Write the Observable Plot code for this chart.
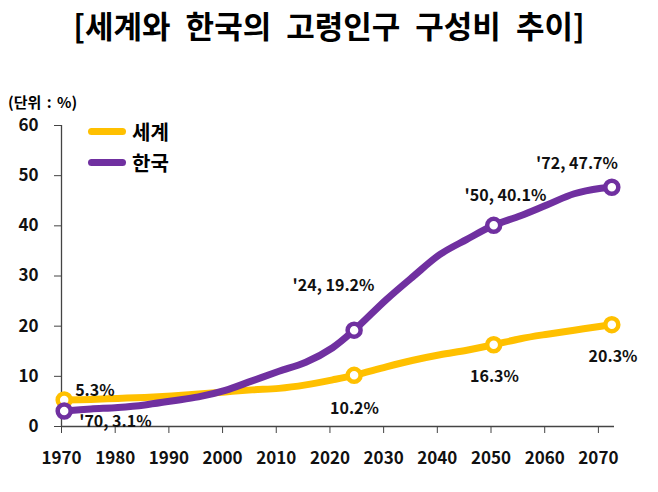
<!DOCTYPE html>
<html>
<head>
<meta charset="utf-8">
<script src="https://cdn.jsdelivr.net/npm/d3@7"></script>
<script src="https://cdn.jsdelivr.net/npm/@observablehq/plot@0.6"></script>
<style>
  body { margin: 0; background: #fff; font-family: "Noto Sans CJK KR", "Noto Sans", sans-serif; }
  #wrap { position: relative; width: 658px; height: 492px; overflow: hidden; }
  #title { position: absolute; left: 0; top: 6px; width: 658px; text-align: center; font-size: 31px; font-weight: 700; line-height: 38px; color: #000; word-spacing: 8px; z-index: 2; }
  #unit { position: absolute; left: 8px; top: 92px; font-size: 15px; font-weight: 700; line-height: 20px; color: #000; word-spacing: 2px; z-index: 2; }
  #legend { position: absolute; left: 0; top: 0; z-index: 2; }
  .leg { position: absolute; left: 88px; height: 24px; display: flex; align-items: center; font-size: 20px; font-weight: 700; color: #000; white-space: nowrap; }
  .leg span.sw { display: inline-block; width: 38px; height: 7px; border-radius: 4px; margin-right: 6px; }
  #chart { position: absolute; left: 0; top: 60px; z-index: 1; }
</style>
</head>
<body>
<div id="wrap">
  <div id="title">[세계와 한국의 고령인구 구성비 추이]</div>
  <div id="unit">(단위 : %)</div>
  <div id="legend"></div>
  <div id="chart"></div>
</div>
<script>
// ---- data ----
const years = [1970, 1975, 1980, 1985, 1990, 1995, 2000, 2005, 2010, 2015, 2020, 2024, 2030, 2035, 2040, 2045, 2050, 2055, 2060, 2065, 2070, 2072];
const koreaValues = [3.1, 3.5, 3.8, 4.3, 5.1, 5.9, 7.2, 9.1, 11.0, 12.8, 15.7, 19.2, 25.3, 29.9, 34.3, 37.3, 40.1, 42.0, 44.2, 46.4, 47.5, 47.7];
const worldValues = [5.3, 5.4, 5.6, 5.8, 6.1, 6.5, 6.9, 7.3, 7.6, 8.3, 9.3, 10.2, 11.9, 13.2, 14.3, 15.2, 16.3, 17.5, 18.4, 19.2, 20.0, 20.3];
const seriesNames = ["세계", "한국"];
const seriesColors = ["#FFC000", "#7030A0"];
const markedYears = [1970, 2024, 2050, 2072];
const xTicks = [1970, 1980, 1990, 2000, 2010, 2020, 2030, 2040, 2050, 2060, 2070];
const yTicks = [0, 10, 20, 30, 40, 50, 60];
const koreaLabels = ["'70, 3.1%", "'24, 19.2%", "'50, 40.1%", "'72, 47.7%"];
const worldLabels = ["5.3%", "10.2%", "16.3%", "20.3%"];

// ---- build tables ----
const world = years.map((year, i) => ({series: seriesNames[0], year, value: worldValues[i]}));
const korea = years.map((year, i) => ({series: seriesNames[1], year, value: koreaValues[i]}));
const worldMarks = world.filter(d => markedYears.includes(d.year)).map((d, i) => ({...d, label: worldLabels[i]}));
const koreaMarks = korea.filter(d => markedYears.includes(d.year)).map((d, i) => ({...d, label: koreaLabels[i]}));

// legend
const legend = document.getElementById("legend");
seriesNames.forEach((name, i) => {
  const el = document.createElement("div");
  el.className = "leg";
  el.style.top = (119 + i * 31) + "px";
  el.innerHTML = `<span class="sw" style="background:${seriesColors[i]}"></span>${name}`;
  legend.appendChild(el);
});

// Excel-style category axis: each year's point sits in the middle of its slot
const xPos = d => d.year + 0.5;

const labelFont = {fontSize: 16, fontWeight: 700, fill: "#111", text: "label"};
const labelMark = (data, year, opts) => Plot.text(data.filter(d => d.year === year), {x: xPos, y: "value", ...labelFont, ...opts});

const chart = Plot.plot({
  width: 658,
  height: 432,
  marginTop: 65,
  marginBottom: 66,
  marginLeft: 61,
  marginRight: 44,
  style: {fontFamily: '"Noto Sans CJK KR", "Noto Sans", sans-serif', background: "transparent", color: "#111"},
  x: {domain: [1970, 2073]},
  y: {domain: [0, 60]},
  marks: [
    Plot.axisX({ticks: xTicks, tickFormat: d => String(d), tickSize: 7, tickPadding: 18, fontSize: 17, fontWeight: 700, stroke: "#444", label: null}),
    Plot.axisY({ticks: yTicks, tickSize: 7, tickPadding: 16, fontSize: 17, fontWeight: 700, stroke: "#444", label: null}),
    Plot.ruleY([0], {stroke: "#444", strokeWidth: 1.3}),
    Plot.ruleX([1970], {stroke: "#444", strokeWidth: 1.3}),
    Plot.line(world, {x: xPos, y: "value", stroke: seriesColors[0], strokeWidth: 7, curve: "catmull-rom", strokeLinecap: "round", strokeLinejoin: "round"}),
    Plot.line(korea, {x: xPos, y: "value", stroke: seriesColors[1], strokeWidth: 7, curve: "catmull-rom", strokeLinecap: "round", strokeLinejoin: "round"}),
    Plot.dot(worldMarks, {x: xPos, y: "value", r: 6.5, fill: "#fff", stroke: seriesColors[0], strokeWidth: 4.5}),
    Plot.dot(koreaMarks, {x: xPos, y: "value", r: 6.5, fill: "#fff", stroke: seriesColors[1], strokeWidth: 4.5}),
    labelMark(koreaMarks, 1970, {textAnchor: "start", dx: 15, dy: 10.5}),
    labelMark(worldMarks, 1970, {textAnchor: "start", dx: 11, dy: -8.7}),
    labelMark(koreaMarks, 2024, {dx: -20.6, dy: -44}),
    labelMark(koreaMarks, 2050, {dx: 11.8, dy: -29}),
    labelMark(koreaMarks, 2072, {dx: -34.8, dy: -23.7}),
    labelMark(worldMarks, 2072, {dx: 1.2, dy: 32.5}),
    labelMark(worldMarks, 2050, {dx: 0.8, dy: 31.8}),
    labelMark(worldMarks, 2024, {dx: 0.4, dy: 33.2})
  ]
});
document.getElementById("chart").appendChild(chart);
</script>
</body>
</html>
